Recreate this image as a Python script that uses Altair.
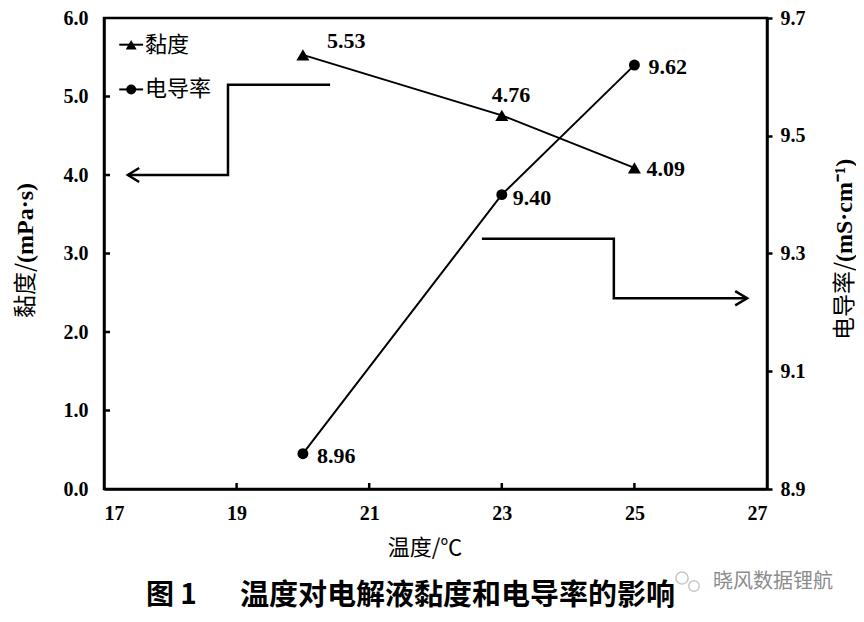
import altair as alt
import pandas as pd

# ---- data ----
temps = [20, 23, 25]
viscosity = [5.53, 4.76, 4.09]
conductivity = [8.96, 9.40, 9.62]
visc_labels = ["5.53", "4.76", "4.09"]
cond_labels = ["8.96", "9.40", "9.62"]

x_ticks = [17, 19, 21, 23, 25, 27]
left_ticks = [0.0, 1.0, 2.0, 3.0, 4.0, 5.0, 6.0]
right_ticks = [8.9, 9.1, 9.3, 9.5, 9.7]
x_inner_ticks = [19, 21, 23, 25]
left_inner_ticks = [1.0, 2.0, 3.0, 4.0, 5.0]

# arrow annotations (data coordinates)
arrL_x = [20.41, 18.87, 18.87, 17.36]
arrL_y = [5.15, 5.15, 4.0, 4.0]
arrL_head_x = [17.53, 17.36, 17.53]
arrL_head_y = [4.09, 4.0, 3.91]
arrR_x = [22.70, 24.69, 24.69, 26.70]
arrR_y = [9.325, 9.325, 9.224, 9.224]
arrR_head_x = [26.52, 26.70, 26.52]
arrR_head_y = [9.236, 9.224, 9.212]

# legend (data coordinates of left scale)
legend_names = ["黏度", "电导率"]
legend_line_x = [17.23, 17.59]
legend_marker_x = 17.41
legend_text_x = 17.62
legend_y = [5.66, 5.09]

# label offsets (style)
visc_off = [(24, -14), (-10, -20), (12, 1)]
cond_off = [(14, 2), (11, 3), (14, 2)]

FONT_NUM = "Liberation Serif"
FONT_CJK = "Noto Sans CJK SC"
W, H = 663, 471

x_scale = alt.Scale(domain=[17, 27], nice=False, zero=False)
yl_scale = alt.Scale(domain=[0, 6], nice=False, zero=False)
yr_scale = alt.Scale(domain=[8.9, 9.7], nice=False, zero=False)

x_axis = alt.Axis(values=x_ticks, format="d", title=None, grid=False, ticks=False, tickSize=0,
                  labelPadding=14, labelFont=FONT_NUM, labelFontWeight="bold", labelFontSize=20,
                  labelColor="black", domainColor="black", domainWidth=2.5)
yl_axis = alt.Axis(values=left_ticks, format=".1f", title=None, grid=False, ticks=False, tickSize=0,
                   orient="left", labelPadding=16, labelFont=FONT_NUM, labelFontWeight="bold",
                   labelFontSize=20, labelColor="black", domainColor="black", domainWidth=2.5)
yr_axis = alt.Axis(values=right_ticks, format=".1f", title=None, grid=False, ticks=True, tickSize=5,
                   tickWidth=2.5, tickColor="black", orient="right", labelPadding=8, labelFont=FONT_NUM,
                   labelFontWeight="bold", labelFontSize=20, labelColor="black", domainColor="black",
                   domainWidth=2.5)


def X(field="t"):
    return alt.X(f"{field}:Q", scale=x_scale, axis=x_axis)


def YL(field="v"):
    return alt.Y(f"{field}:Q", scale=yl_scale, axis=yl_axis)


def YR(field="c"):
    return alt.Y(f"{field}:Q", scale=yr_scale, axis=yr_axis)


df = pd.DataFrame({"t": temps, "v": viscosity, "c": conductivity,
                   "vl": visc_labels, "cl": cond_labels, "i": list(range(len(temps)))})

# ---- left (viscosity) layer ----
v_line = alt.Chart(df).mark_line(color="black", strokeWidth=2).encode(x=X(), y=YL())
v_pts = alt.Chart(df).mark_point(shape="triangle-up", filled=True, color="black", size=170, opacity=1).encode(x=X(), y=YL())
v_labels = [
    alt.Chart(df).transform_filter(alt.datum.i == k).mark_text(
        align="left", baseline="middle", dx=dx, dy=dy, font=FONT_NUM, fontWeight="bold",
        fontSize=22, color="black").encode(x=X(), y=YL(), text="vl:N")
    for k, (dx, dy) in enumerate(visc_off)
]

arrL = pd.DataFrame({"t": arrL_x + arrL_head_x, "v": arrL_y + arrL_head_y,
                     "g": ["a"] * len(arrL_x) + ["h"] * len(arrL_head_x),
                     "o": list(range(len(arrL_x))) + list(range(len(arrL_head_x)))})
arrL_chart = alt.Chart(arrL).mark_line(color="black", strokeWidth=2.5).encode(
    x=X(), y=YL(), detail="g:N", order="o:Q")

leg_lines = pd.DataFrame({"t": legend_line_x * 2, "v": [legend_y[0]] * 2 + [legend_y[1]] * 2,
                          "g": ["a", "a", "b", "b"]})
leg_line_chart = alt.Chart(leg_lines).mark_line(color="black", strokeWidth=2).encode(
    x=X(), y=YL(), detail="g:N")
leg_mk = pd.DataFrame({"t": [legend_marker_x], "v": [legend_y[0]]})
leg_tri = alt.Chart(leg_mk).mark_point(shape="triangle-up", filled=True, color="black", size=120, opacity=1).encode(x=X(), y=YL())
leg_mk2 = pd.DataFrame({"t": [legend_marker_x], "v": [legend_y[1]]})
leg_cir = alt.Chart(leg_mk2).mark_point(shape="circle", filled=True, color="black", size=100, opacity=1).encode(x=X(), y=YL())
leg_txt = pd.DataFrame({"t": [legend_text_x] * 2, "v": legend_y, "s": legend_names})
leg_txt_chart = alt.Chart(leg_txt).mark_text(align="left", baseline="middle", font=FONT_CJK,
                                             fontSize=22, color="black").encode(x=X(), y=YL(), text="s:N")

lt = pd.DataFrame({"v": left_inner_ticks})
left_tick_chart = alt.Chart(lt).mark_rule(color="black", strokeWidth=2.5).encode(
    y=YL(), x=alt.value(0), x2=alt.value(6))
xt = pd.DataFrame({"t": x_inner_ticks})
x_tick_chart = alt.Chart(xt).mark_rule(color="black", strokeWidth=2.5).encode(
    x=X(), y=alt.value(H), y2=alt.value(H - 6))

left_layer = alt.layer(v_line, v_pts, *v_labels, arrL_chart, leg_line_chart, leg_tri, leg_cir,
                       leg_txt_chart, left_tick_chart, x_tick_chart)

# ---- right (conductivity) layer ----
c_line = alt.Chart(df).mark_line(color="black", strokeWidth=2).encode(x=X(), y=YR())
c_pts = alt.Chart(df).mark_point(shape="circle", filled=True, color="black", size=120, opacity=1).encode(x=X(), y=YR())
c_labels = [
    alt.Chart(df).transform_filter(alt.datum.i == k).mark_text(
        align="left", baseline="middle", dx=dx, dy=dy, font=FONT_NUM, fontWeight="bold",
        fontSize=22, color="black").encode(x=X(), y=YR(), text="cl:N")
    for k, (dx, dy) in enumerate(cond_off)
]
arrR = pd.DataFrame({"t": arrR_x + arrR_head_x, "c": arrR_y + arrR_head_y,
                     "g": ["a"] * len(arrR_x) + ["h"] * len(arrR_head_x),
                     "o": list(range(len(arrR_x))) + list(range(len(arrR_head_x)))})
arrR_chart = alt.Chart(arrR).mark_line(color="black", strokeWidth=2.5).encode(
    x=X(), y=YR(), detail="g:N", order="o:Q")

right_layer = alt.layer(c_line, c_pts, *c_labels, arrR_chart)


# ---- titles and caption as text ----
def txt(s, x, y, **kw):
    return alt.Chart(pd.DataFrame({"s": [s]})).mark_text(**kw).encode(
        text="s:N", x=alt.value(x), y=alt.value(y))


def ring(x, y, size):
    return alt.Chart(pd.DataFrame({"s": [0]})).mark_point(
        shape="circle", filled=False, color="#b0b0b0", strokeWidth=1.5, size=size).encode(
        x=alt.value(x), y=alt.value(y))


titles = alt.layer(
    txt("黏度/", -78, 245, angle=270, align="right", baseline="middle", font=FONT_CJK, fontSize=23, color="black"),
    txt("(mPa·s)", -78, 245, angle=270, align="left", baseline="middle", font=FONT_NUM, fontWeight="bold", fontSize=24, color="black"),
    txt("电导率/", 741, 244, angle=270, align="right", baseline="middle", font=FONT_CJK, fontSize=23, color="black"),
    txt("(mS·cm⁻¹)", 741, 244, angle=270, align="left", baseline="middle", font=FONT_NUM, fontWeight="bold", fontSize=24, color="black"),
    txt("温度/℃", 321, 530, align="center", baseline="middle", font=FONT_CJK, fontSize=22, color="black"),
    txt("图 1", 42, 578, align="left", baseline="middle", font=FONT_CJK, fontWeight="bold", fontSize=28, color="black"),
    txt("温度对电解液黏度和电导率的影响", 136, 578, align="left", baseline="middle", font=FONT_CJK, fontWeight="bold", fontSize=29, color="black"),
    ring(578, 560, 150),
    ring(590, 568, 110),
    txt("晓风数据锂航", 609, 564, align="left", baseline="middle", font=FONT_CJK, fontSize=20, color="#8c8c8c"),
)

chart = alt.layer(left_layer, right_layer, titles).resolve_scale(y="independent").properties(
    width=W, height=H,
    padding={"left": 96, "top": 10, "right": 89, "bottom": 125},
    autosize=alt.AutoSizeParams(type="none"),
    background="white",
).configure_view(stroke="black", strokeWidth=2.5)

chart.save("out.html", embed_options={"renderer": "svg", "actions": False})
